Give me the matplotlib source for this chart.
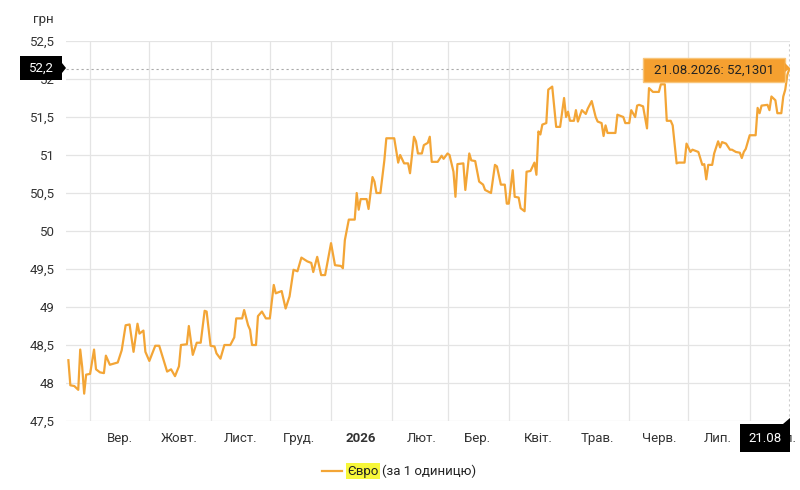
import matplotlib
matplotlib.use("Agg")
import matplotlib.pyplot as plt
import numpy as np
import pandas as pd
from matplotlib.patches import Rectangle, Polygon

plt.rcParams['font.family'] = ['Roboto', 'DejaVu Sans']

# курс євро, грн (день від 21.08.2025 -> значення)
start = "2025-08-21"
days = [0, 1, 3, 5, 6, 7, 8, 9, 11, 13, 14, 16, 18, 19, 21, 25, 27, 29, 31, 33,
        35, 36, 38, 39, 41, 44, 46, 50, 52, 54, 56, 57, 60, 61, 63, 65, 67, 69, 70, 72,
        74, 75, 77, 79, 82, 84, 85, 88, 89, 91, 92, 93, 95, 96, 98, 100, 102, 104, 105, 108,
        110, 112, 114, 116, 118, 121, 123, 124, 126, 128, 130, 133, 135, 138, 139, 140, 142, 145, 146, 147,
        148, 151, 152, 154, 155, 156, 158, 160, 161, 165, 167, 168, 170, 172, 173, 175, 176, 177, 179, 180,
        182, 183, 184, 187, 189, 190, 192, 193, 195, 196, 197, 200, 201, 203, 204, 206, 208, 210, 211, 214,
        216, 217, 219, 221, 222, 223, 225, 226, 228, 229, 231, 232, 234, 236, 237, 238, 239, 240, 242, 243,
        245, 247, 249, 251, 252, 253, 254, 256, 257, 258, 260, 262, 263, 265, 267, 268, 270, 271, 272, 273,
        277, 278, 281, 282, 284, 285, 287, 288, 289, 291, 293, 294, 296, 299, 300, 302, 303, 305, 306, 308,
        309, 312, 313, 315, 316, 319, 321, 322, 323, 324, 326, 327, 329, 330, 331, 333, 335, 336, 338, 340,
        341, 342, 343, 345, 348, 349, 350, 351, 354, 355, 356, 358, 359, 361, 362, 363, 364, 365]
eur = [48.30, 47.97, 47.96, 47.91, 48.44, 48.21, 47.86, 48.11, 48.12, 48.44, 48.18, 48.14, 48.13, 48.36, 48.24, 48.27, 48.43, 48.76, 48.77, 48.41,
       48.78, 48.65, 48.69, 48.41, 48.29, 48.49, 48.49, 48.15, 48.18, 48.09, 48.22, 48.50, 48.51, 48.75, 48.37, 48.53, 48.53, 48.95, 48.94, 48.49,
       48.48, 48.39, 48.32, 48.50, 48.50, 48.60, 48.85, 48.85, 48.96, 48.76, 48.70, 48.50, 48.50, 48.88, 48.94, 48.85, 48.85, 49.29, 49.18, 49.21,
       48.98, 49.14, 49.49, 49.47, 49.65, 49.60, 49.58, 49.46, 49.66, 49.42, 49.42, 49.84, 49.55, 49.54, 49.51, 49.88, 50.15, 50.15, 50.50, 50.28,
       50.42, 50.42, 50.29, 50.71, 50.65, 50.50, 50.50, 50.93, 51.22, 51.22, 50.90, 51.00, 50.89, 50.89, 50.76, 51.24, 51.18, 51.02, 51.02, 51.13,
       51.16, 51.24, 50.91, 50.91, 50.99, 50.95, 51.02, 51.00, 50.78, 50.45, 50.88, 50.89, 50.54, 51.02, 50.93, 50.92, 50.65, 50.61, 50.54, 50.50,
       50.87, 50.85, 50.61, 50.61, 50.36, 50.36, 50.80, 50.45, 50.44, 50.30, 50.26, 50.78, 50.79, 50.90, 50.74, 51.31, 51.27, 51.40, 51.42, 51.86,
       51.90, 51.37, 51.37, 51.75, 51.50, 51.57, 51.45, 51.45, 51.59, 51.44, 51.59, 51.54, 51.61, 51.71, 51.50, 51.44, 51.42, 51.25, 51.39, 51.29,
       51.29, 51.53, 51.50, 51.42, 51.42, 51.59, 51.50, 51.65, 51.66, 51.64, 51.35, 51.88, 51.83, 51.83, 51.93, 51.93, 51.45, 51.45, 51.39, 50.89,
       50.90, 50.90, 51.15, 51.04, 51.07, 51.04, 50.87, 50.88, 50.68, 50.87, 50.87, 51.02, 51.18, 51.10, 51.17, 51.15, 51.07, 51.07, 51.04, 51.03,
       50.96, 51.04, 51.08, 51.26, 51.26, 51.62, 51.55, 51.65, 51.66, 51.59, 51.77, 51.72, 51.55, 51.55, 51.77, 51.86, 52.05, 52.1301]

month_labels = ["Вер.", "Жовт.", "Лист.", "Груд.", "2026", "Лют.", "Бер.",
                "Квіт.", "Трав.", "Черв.", "Лип.", "Серп."]
y_ticks = [47.5, 48, 48.5, 49, 49.5, 50, 50.5, 51, 51.5, 52, 52.5]

orange = '#f3a536'
W, H = 800, 490

dates = pd.Timestamp(start) + pd.to_timedelta(days, unit="D")
month_starts = pd.date_range("2025-09-01", "2026-08-01", freq="MS")
mid_months = month_starts + pd.Timedelta(days=15)

fig = plt.figure(figsize=(8, 4.9), dpi=100)
ax = fig.add_axes([66 / W, 1 - 421 / H, 724 / W, 380 / H])
ax.plot(dates, eur, color=orange, lw=1.6, zorder=3)
ax.set_ylim(47.5, 52.5)
ax.set_xlim(pd.Timestamp(start) - pd.Timedelta(days=1.2), pd.Timestamp(start) + pd.Timedelta(days=365.4))

for s in ax.spines.values():
    s.set_visible(False)
ax.set_yticks(y_ticks)
ax.set_yticklabels([f"{v:g}".replace('.', ',') for v in y_ticks])
ax.set_xticks(month_starts)
ax.set_xticklabels([""] * len(month_starts))
ax.set_xticks(mid_months, minor=True)
ax.set_xticklabels(month_labels, minor=True)
for lbl in ax.get_xticklabels(minor=True):
    if lbl.get_text() == "2026":
        lbl.set_fontweight('bold')
ax.tick_params(axis='both', which='both', length=0, labelsize=9.5, colors='#333333')
ax.tick_params(axis='y', pad=8)
ax.tick_params(axis='x', which='minor', pad=8)
ax.grid(True, which='major', color='#e4e4e4', lw=0.9)

# перехрестя на останній точці
ax.axhline(eur[-1], color='#aaaaaa', ls=(0, (2, 2.5)), lw=0.8, zorder=2)
ax.axvline(dates[-1], color='#cccccc', ls=(0, (2, 2.5)), lw=0.8, zorder=2)

fig.text(33 / W, 1 - 20 / H, "грн", fontsize=9.5, color='#333333', va='center')


def box(x0, y0, x1, y1, fc, ec='none'):
    fig.patches.append(Rectangle((x0 / W, 1 - y1 / H), (x1 - x0) / W, (y1 - y0) / H,
                                 transform=fig.transFigure, facecolor=fc, edgecolor=ec, lw=1, zorder=5))


def tri(pts, fc):
    fig.patches.append(Polygon([(px / W, 1 - py / H) for px, py in pts], closed=True,
                               transform=fig.transFigure, facecolor=fc, edgecolor='none', zorder=5))


# мітка зліва
box(20, 56, 62, 80, 'black')
tri([(62, 63), (66, 68), (62, 73)], 'black')
fig.text(41 / W, 1 - 68 / H, "52,2", color='white', fontsize=9.5, ha='center', va='center', zorder=6)

# підказка
box(643, 58, 785, 82, '#f5a030', '#f8c57a')
tri([(785, 63), (790, 68), (785, 72)], '#f5a030')
fig.text(714 / W, 1 - 70 / H, "21.08.2026: 52,1301", color='#222222', fontsize=9.5,
         ha='center', va='center', zorder=6)

# мітка знизу
box(740, 424, 790, 452, 'black')
tri([(783, 424), (790, 418), (790, 424)], 'black')
fig.text(765 / W, 1 - 438 / H, "21.08", color='white', fontsize=9.5, ha='center', va='center', zorder=6)

# легенда
fig.lines.append(plt.Line2D([322 / W, 342 / W], [1 - 471 / H, 1 - 471 / H], color=orange, lw=1.6,
                            transform=fig.transFigure))
t1 = fig.text(347 / W, 1 - 471 / H, "Євро", fontsize=9.5, color='#222222', va='center',
              bbox=dict(facecolor='#f7f73a', edgecolor='none', boxstyle='square,pad=0.1'))
fig.canvas.draw()
bb = t1.get_window_extent()
fig.text(bb.x1 / W + 4 / W, 1 - 471 / H, "(за 1 одиницю)", fontsize=9.5, color='#222222', va='center')

fig.savefig("out.png", dpi=100)
